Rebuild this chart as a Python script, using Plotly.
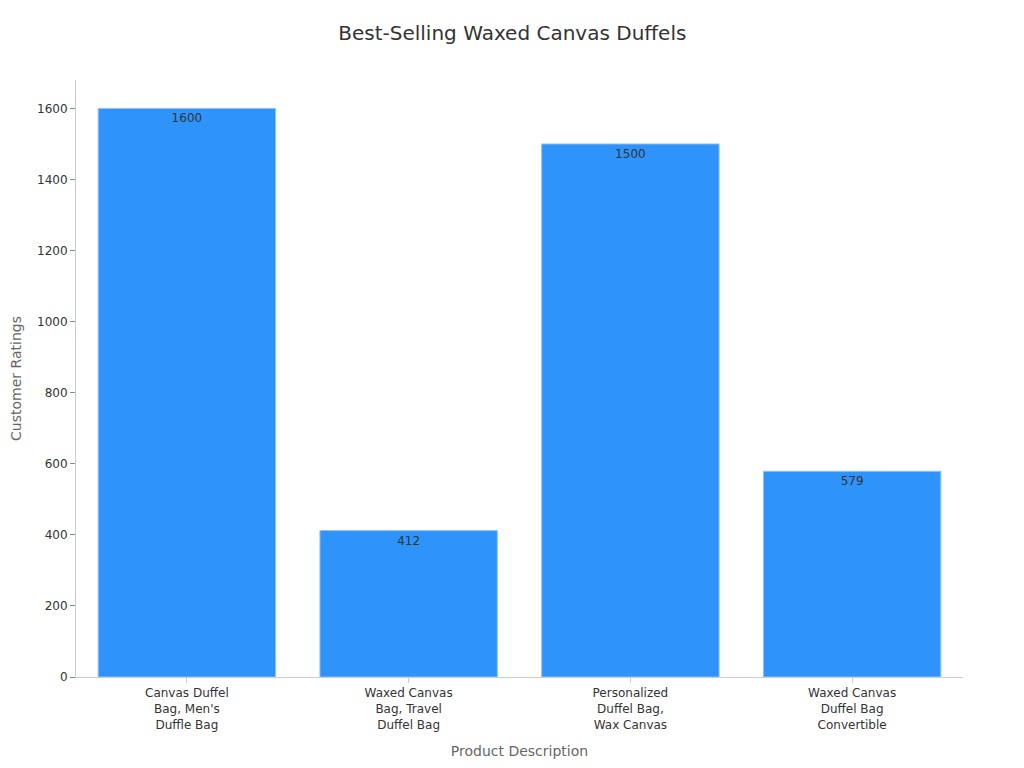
import plotly.graph_objects as go

products = [
    "Canvas Duffel<br>Bag, Men's<br>Duffle Bag",
    "Waxed Canvas<br>Bag, Travel<br>Duffel Bag",
    "Personalized<br>Duffel Bag,<br>Wax Canvas",
    "Waxed Canvas<br>Duffel Bag<br>Convertible",
]
ratings = [1600, 412, 1500, 579]

fig = go.Figure(go.Bar(
    x=products, y=ratings,
    text=[str(r) for r in ratings], textposition="inside", insidetextanchor="end",
    textfont=dict(color="#333333", size=12),
    marker=dict(color="#2E93FA", line=dict(color="#8fc3f7", width=1)),
    width=0.8,
))
fig.update_layout(
    title=dict(text="Best-Selling Waxed Canvas Duffels", x=0.4925, xanchor="center",
               y=0.967, yanchor="middle", yref="container",
               font=dict(size=20, color="#333333")),
    font=dict(family="DejaVu Sans", size=12, color="#333333"),
    plot_bgcolor="white", paper_bgcolor="white",
    width=1024, height=768,
    margin=dict(l=68, r=69, t=72, b=99, autoexpand=False),
    showlegend=False,
    xaxis=dict(title=dict(text="Product Description", font=dict(size=14, color="#666666")),
               tickfont=dict(size=12), automargin=False,
               showline=True, linecolor="#cccccc", ticks="outside", tickcolor="#cccccc"),
    yaxis=dict(title=dict(text="Customer Ratings", font=dict(size=14, color="#666666")),
               tickfont=dict(size=12), automargin=False,
               range=[0, 1680], dtick=200, showgrid=False, showline=True,
               linecolor="#cccccc", ticks="outside", tickcolor="#888888", zeroline=False),
)
fig.write_html("out.html")
